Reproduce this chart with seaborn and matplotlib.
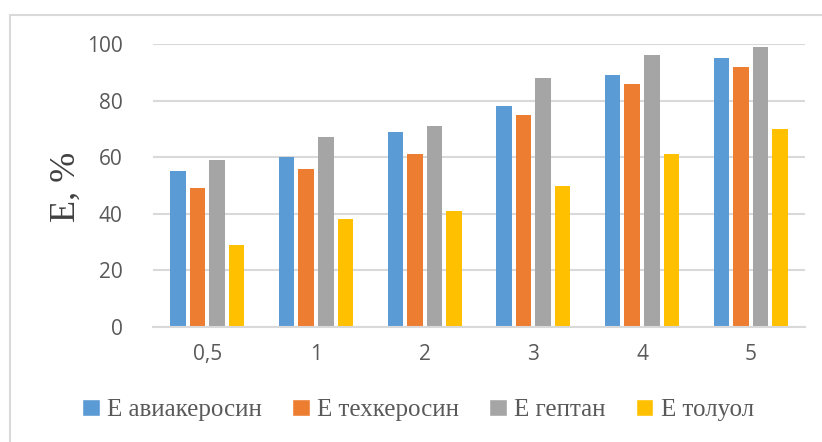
import matplotlib
matplotlib.use("Agg")
import matplotlib.pyplot as plt
import seaborn as sns
import pandas as pd
from matplotlib.patches import Rectangle

# Extraction degree E (%) for each solvent at each ratio
ratios = ["0,5", "1", "2", "3", "4", "5"]
series_names = ["Е авиакеросин", "Е техкеросин", "Е гептан", "Е толуол"]
e_aviakerosin = [55, 60, 69, 78, 89, 95]
e_tekhkerosin = [49, 56, 61, 75, 86, 92]
e_geptan = [59, 67, 71, 88, 96, 99]
e_toluol = [29, 38, 41, 50, 61, 70]
y_ticks = [0, 20, 40, 60, 80, 100]

colors = ["#5B9BD5", "#ED7D31", "#A5A5A5", "#FFC000"]

rows = []
for name, vals in zip(series_names,
                      [e_aviakerosin, e_tekhkerosin, e_geptan, e_toluol]):
    for r, v in zip(ratios, vals):
        rows.append({"ratio": r, "series": name, "E": v})
df = pd.DataFrame(rows)

sns.set_theme(style="white")
plt.rcParams["font.family"] = ["Open Sans", "DejaVu Sans"]

fig = plt.figure(figsize=(8.22, 4.42), dpi=100)
ax = fig.add_axes([153 / 822, 1 - 327 / 442, 652 / 822, 283 / 442])

# Outer chart frame
fig.patches.append(Rectangle((10 / 822, -0.1), 1.2, 1 - 15 / 442 + 0.1,
                             transform=fig.transFigure, fill=False,
                             edgecolor="#D9D9D9", linewidth=1.5, zorder=0))

sns.barplot(data=df, x="ratio", y="E", hue="series", order=ratios,
            hue_order=series_names, palette=colors, width=0.72, gap=0.2,
            saturation=1, linewidth=0, ax=ax, legend=False)

ax.set_ylim(0, 100)
ax.set_xlim(-0.5, len(ratios) - 0.5)
ax.set_yticks(y_ticks)
ax.yaxis.grid(True, color="#D9D9D9", linewidth=1.5)
ax.set_axisbelow(True)
for side in ["top", "right", "left"]:
    ax.spines[side].set_visible(False)
ax.spines["bottom"].set_color("#D9D9D9")
ax.spines["bottom"].set_linewidth(1.5)
ax.tick_params(axis="both", length=0, labelsize=15, labelcolor="#595959")
ax.tick_params(axis="y", pad=22)
ax.tick_params(axis="x", pad=12)
ax.set_xlabel("")
ax.set_ylabel("")

fig.text(66 / 822, 1 - 187 / 442, "Е, %", rotation=90, ha="center",
         va="center", fontsize=26, color="#404040",
         family=["Liberation Serif", "DejaVu Serif"])

handles = [Rectangle((0, 0), 1, 1, facecolor=c) for c in colors]
fig.legend(handles, series_names, loc="center",
           bbox_to_anchor=(418 / 822, 1 - 410 / 442), ncol=4, frameon=False,
           prop={"family": ["Liberation Serif", "DejaVu Serif"], "size": 18},
           labelcolor="#595959", handlelength=0.7, handleheight=0.7,
           handletextpad=0.3, columnspacing=1.2)

fig.savefig("out.png", dpi=100)
